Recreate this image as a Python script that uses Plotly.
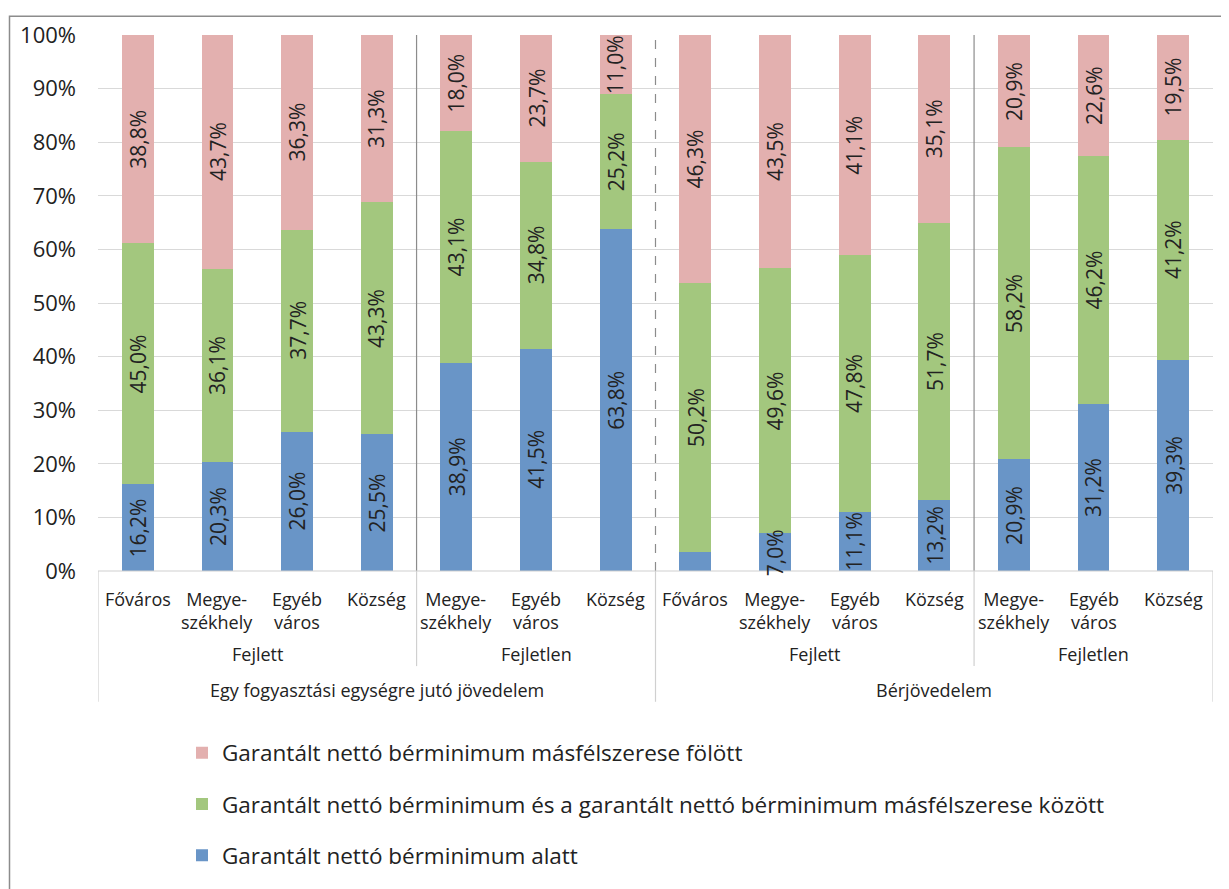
import plotly.graph_objects as go

# ---- data ----
categories = ["Főváros", "Megye-<br>székhely", "Egyéb<br>város", "Község",
              "Megye-<br>székhely", "Egyéb<br>város", "Község",
              "Főváros", "Megye-<br>székhely", "Egyéb<br>város", "Község",
              "Megye-<br>székhely", "Egyéb<br>város", "Község"]
level2_labels = ["Fejlett", "Fejletlen", "Fejlett", "Fejletlen"]
level2_spans = [(0, 3), (4, 6), (7, 10), (11, 13)]
level3_labels = ["Egy fogyasztási egységre jutó jövedelem", "Bérjövedelem"]
level3_spans = [(0, 6), (7, 13)]

below = [16.2, 20.3, 26.0, 25.5, 38.9, 41.5, 63.8, 3.5, 7.0, 11.1, 13.2, 20.9, 31.2, 39.3]
between = [45.0, 36.1, 37.7, 43.3, 43.1, 34.8, 25.2, 50.2, 49.6, 47.8, 51.7, 58.2, 46.2, 41.2]
above = [38.8, 43.7, 36.3, 31.3, 18.0, 23.7, 11.0, 46.3, 43.5, 41.1, 35.1, 20.9, 22.6, 19.5]

series_names = ["Garantált nettó bérminimum alatt",
                "Garantált nettó bérminimum és a garantált nettó bérminimum másfélszerese között",
                "Garantált nettó bérminimum másfélszerese fölött"]
colors = ["#6995c7", "#a3c77e", "#e3b0af"]
legend_ranks = [3, 2, 1]
yticks = [0, 10, 20, 30, 40, 50, 60, 70, 80, 90, 100]

# ---- layout geometry (reference pixels; page body has an 8px offset) ----
OFF = 8
W, H = 1229 - OFF, 889 - OFF
L, R, T, B = 98, 1213, 35, 576
PW, PH = R - L, B - T


def py(y):
    return (B - y) / PH


def px(x):
    return (x - L) / PW


FONT = "Open Sans"
TXT = "#222222"

xs = list(range(len(categories)))
fig = go.Figure()
for name, vals, col, rk in zip(series_names, [below, between, above], colors, legend_ranks):
    fig.add_trace(go.Bar(x=xs, y=vals, name=name, marker=dict(color=col, line=dict(width=0)),
                         legendgroup=name, legendrank=rk, hoverinfo="y"))

annotations = []
# data labels
for i in xs:
    base = 0
    for vals in [below, between, above]:
        v = vals[i]
        if v >= 5:
            annotations.append(dict(x=i, y=base + v / 2, xref="x", yref="y",
                                    text=f"{v:.1f}".replace(".", ",") + "%",
                                    textangle=-90, showarrow=False,
                                    font=dict(family=FONT, size=21, color=TXT)))
        base += v

# category labels
for i, c in enumerate(categories):
    annotations.append(dict(x=i, y=py(590), xref="x", yref="paper", yanchor="top",
                            text=c, showarrow=False,
                            font=dict(family=FONT, size=18, color=TXT)))
for lab, (a, b) in zip(level2_labels, level2_spans):
    annotations.append(dict(x=(a + b) / 2, y=py(660), xref="x", yref="paper", yanchor="middle",
                            text=lab, showarrow=False,
                            font=dict(family=FONT, size=18, color=TXT)))
for lab, (a, b) in zip(level3_labels, level3_spans):
    annotations.append(dict(x=(a + b) / 2, y=py(696), xref="x", yref="paper", yanchor="middle",
                            text=lab, showarrow=False,
                            font=dict(family=FONT, size=18, color=TXT)))

shapes = []
# outer frame (only top and left edges fall inside the picture)
shapes.append(dict(type="rect", xref="paper", yref="paper",
                   x0=px(9.5), x1=px(1260), y0=py(920), y1=py(16),
                   line=dict(color="#8c8c8c", width=1.5), fillcolor="rgba(0,0,0,0)"))
# separators inside plot
for xv, dash in [(3.5, "solid"), (6.5, "dash"), (10.5, "solid")]:
    shapes.append(dict(type="line", xref="x", yref="paper", x0=xv, x1=xv, y0=0, y1=1,
                       line=dict(color="#8c8c8c", width=1.2, dash=dash)))
# separators below axis
for xv, ybot in [(-0.5, 708), (3.5, 672), (6.5, 708), (10.5, 672), (13.5, 708)]:
    shapes.append(dict(type="line", xref="x", yref="paper", x0=xv, x1=xv, y0=0, y1=py(ybot),
                       line=dict(color="#d0d0d0", width=1.2)))
# axis line
shapes.append(dict(type="line", xref="x", yref="paper", x0=-0.5, x1=13.5, y0=0, y1=0,
                   line=dict(color="#d0d0d0", width=1.2)))

fig.update_layout(
    width=W, height=H,
    margin=dict(l=L - OFF, r=1229 - R, t=T - OFF, b=889 - B),
    barmode="stack", bargap=0.6,
    plot_bgcolor="white", paper_bgcolor="white",
    font=dict(family=FONT, color=TXT),
    xaxis=dict(range=[-0.5, 13.5], showticklabels=False, showgrid=False, zeroline=False,
               showline=False, ticks=""),
    yaxis=dict(range=[0, 100], tickvals=yticks, ticktext=[f"{v}%" for v in yticks],
               showgrid=True, gridcolor="#d9d9d9", gridwidth=1, zeroline=False,
               showline=False, ticks="", ticklabelstandoff=21,
               tickfont=dict(family=FONT, size=22, color=TXT)),
    showlegend=True,
    legend=dict(orientation="v", x=px(182), xanchor="left", y=py(738), yanchor="top",
                traceorder="grouped", tracegroupgap=19,
                font=dict(family=FONT, size=22.5, color=TXT), bgcolor="rgba(0,0,0,0)"),
    annotations=annotations,
    shapes=shapes,
)

fig.write_html("out.html")
